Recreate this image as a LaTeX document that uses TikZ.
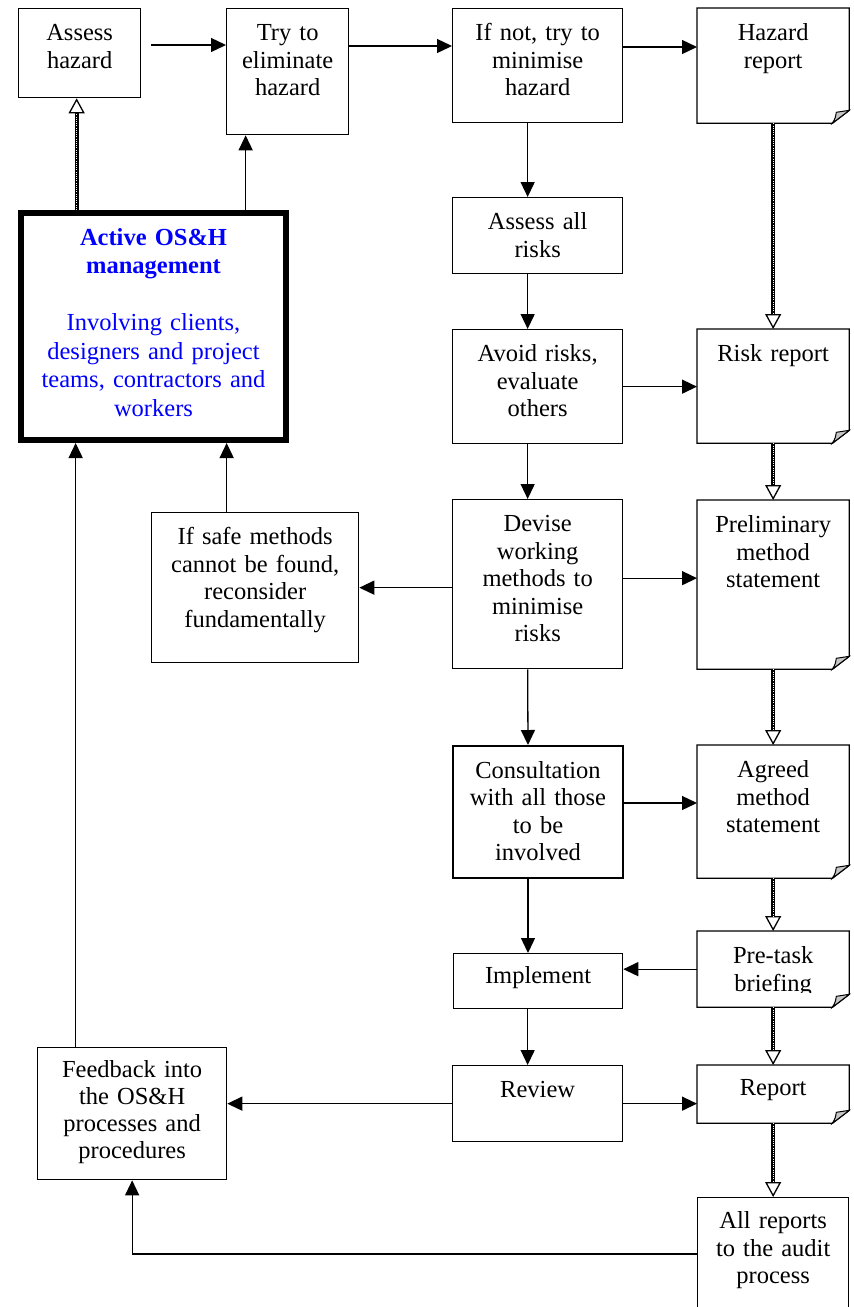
\documentclass[tikz,border=0pt]{standalone}
\usepackage{fontspec}
\setmainfont{Liberation Serif}
\usetikzlibrary{arrows.meta,calc}

\begin{document}
\begin{tikzpicture}[x=1pt,y=1pt,
	box/.style={draw, line width=1.3pt, anchor=north west, inner sep=0pt, align=center, text height=32pt, font=\fontsize{24.5}{27.5}\selectfont},
	doc/.style={box, draw=none},
	arr/.style={line width=1.3pt, -{Triangle[length=15pt,width=14pt]}},
	dline/.style={line width=1pt, -{Triangle[open,length=15pt,width=16pt,line width=1.3pt]},
		preaction={draw, -, line width=3.8pt, shorten >=14pt},
		postaction={draw=white, -, line width=0.9pt, dash pattern=on 1pt off 1.2pt, shorten >=15pt}}]
				\clip (0,0) rectangle (854,-1307);
				\node[box, text width=122pt, text depth=57pt] (ah) at (18,-8) {Assess\\hazard};
				\node[box, text width=122pt, text depth=94pt] (te) at (226,-8) {Try to\\eliminate\\hazard};
				\node[box, text width=170pt, text depth=82pt] (mh) at (452,-8) {If not, try to\\minimise\\hazard};
				\node[doc, text width=151pt, text depth=82pt] (hr) at (697,-8) {Hazard\\report};
				\node[box, line width=6pt, text width=265pt, text depth=195pt, text=blue, font=\fontsize{24.5}{28.5}\selectfont] (om) at (18,-210) {\textbf{Active OS\&H}\\\textbf{management}\\[28.5pt]Involving clients,\\designers and project\\teams, contractors and\\workers};
				\node[box, text width=170pt, text depth=44pt] (ar) at (452,-197) {Assess all\\risks};
				\node[box, text width=170pt, text depth=82pt] (av) at (452,-329) {Avoid risks,\\evaluate\\others};
				\node[doc, text width=151pt, text depth=81pt] (rr) at (697,-329) {Risk report};
				\node[box, text width=207pt, text depth=118pt] (fs) at (151,-512) {If safe methods\\cannot be found,\\reconsider\\fundamentally};
				\node[box, text width=170pt, text depth=137pt] (dw) at (452,-499) {Devise\\working\\methods to\\minimise\\risks};
				\node[doc, text width=151pt, text depth=136pt] (pm) at (697,-500) {Preliminary\\method\\statement};
				\node[box, line width=2pt, text width=170pt, text depth=100pt] (cw) at (452,-745) {Consultation\\with all those\\to be\\involved};
				\node[doc, text width=151pt, text depth=100pt] (am) at (697,-745) {Agreed\\method\\statement};
				\node[box, text width=169pt, text height=30pt, text depth=25pt] (im) at (453,-953) {Implement};
				\node[doc, text width=151pt, text depth=43pt] (pb) at (697,-931) {Pre-task\\briefing};
				\node[box, text width=170pt, text depth=44pt] (rv) at (452,-1065) {Review};
				\node[doc, text width=151pt, text height=30pt, text depth=27pt] (rp) at (697,-1065) {Report};
				\node[box, text width=189pt, text height=30pt, text depth=102pt, font=\fontsize{24.5}{27}\selectfont] (fb) at (37,-1047) {Feedback into\\the OS\&H\\processes and\\procedures};
				\node[box, text width=151pt, text height=31pt, text depth=89pt] (ra) at (697,-1197) {All reports\\to the audit\\process};
				\fill[white] ([shift={(1,1)}]pb.south west) rectangle ([shift={(-1,14)}]pb.south east);
				\foreach \d in {hr,rr,pm,am,pb,rp}{
					\draw[line width=1.3pt] (\d.north west) -- (\d.north east) -- ([yshift=13]\d.south east) -- ([xshift=-17]\d.south east) -- (\d.south west) -- cycle;
					\filldraw[line width=1pt, fill=gray!45] ([yshift=13]\d.south east) -- ([xshift=-17]\d.south east) .. controls ([shift={(-14,5)}]\d.south east) .. ([shift={(-13,11)}]\d.south east) -- cycle;
				}
				\draw[arr] ([shift={(10,-37)}]ah.north east) -- ([yshift=-37]te.north west);
				\draw[arr] ([yshift=-38]te.north east) -- ([yshift=-38]mh.north west);
				\draw[arr] ([yshift=-39]mh.north east) -- ([yshift=-39]hr.north west);
				\draw[dline] ([xshift=-3]ah.south |- om.north) -- ([xshift=-3]ah.south);
				\draw[arr] ([xshift=-42]te.south |- om.north) -- ([xshift=-42]te.south);
				\draw[arr] ([xshift=-10]mh.south) -- ([xshift=-10]ar.north);
				\draw[arr] ([xshift=-10]ar.south) -- ([xshift=-10]av.north);
				\draw[arr] (av.east) -- (av.east -| rr.west);
				\draw[dline] (hr.south) -- (rr.north);
				\draw[arr] ([xshift=-10]av.south) -- ([xshift=-10]dw.north);
				\draw[dline] (rr.south) -- (pm.north);
				\draw[arr] (fs.east -| dw.west) -- (fs.east);
				\draw[arr] ([yshift=6]dw.east) -- ([yshift=6]dw.east -| pm.west);
				\draw[arr] ([xshift=-28.5]fs.north) -- ([xshift=-28.5]fs.north |- om.south);
				\draw[arr] ([xshift=-56.5]fb.north) -- ([xshift=-56.5]fb.north |- om.south);
				\draw[arr] ([xshift=-10]dw.south) -- ([xshift=-10]cw.north);
				\draw[dline] (pm.south) -- (am.north);
				\draw[arr] ([yshift=9]cw.east) -- ([yshift=9]cw.east -| am.west);
				\draw[arr] ([xshift=-10]cw.south) -- ([xshift=-10]cw.south |- im.north);
				\draw[dline] (am.south) -- (pb.north);
				\draw[arr] (pb.west) -- (pb.west -| im.east);
				\draw[arr] ([xshift=-10.5]im.south) -- ([xshift=-10.5]im.south |- rv.north);
				\draw[dline] (pb.south) -- (rp.north);
				\draw[arr] (rv.west) -- (rv.west -| fb.east);
				\draw[arr] (rv.east) -- (rv.east -| rp.west);
				\draw[dline] (rp.south) -- (ra.north);
				\draw[arr] ([yshift=-57]ra.north west) -| (fb.south);
			\end{tikzpicture}
\end{document}
